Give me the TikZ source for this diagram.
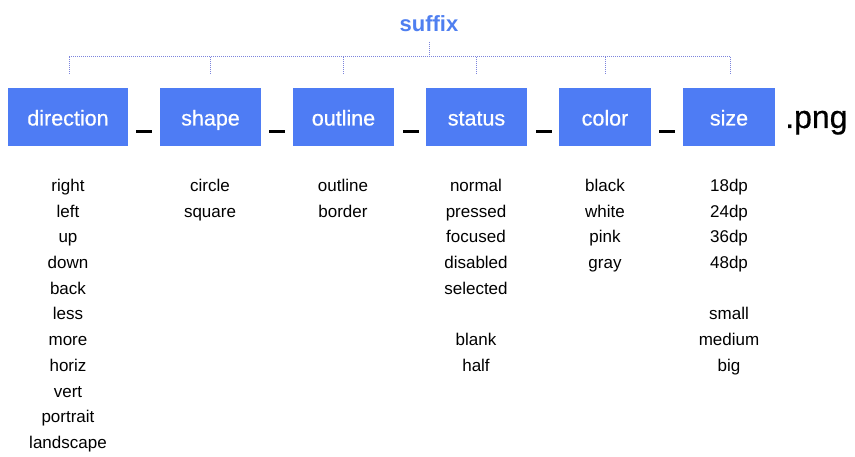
\documentclass[tikz,border=0pt]{standalone}
\usepackage{fontspec}
\setmainfont{Liberation Sans}
\newfontfamily\medfont{Liberation Sans}[FakeBold=0.6]
\definecolor{boxblue}{HTML}{4E7CF4}
\definecolor{suffixblue}{HTML}{4F7FF0}
\definecolor{dotline}{HTML}{7C84DC}
\tikzset{
  catbox/.style={fill=boxblue, draw=none, text=white, minimum height=58pt, inner sep=0pt,
    font=\medfont\fontsize{21.5}{24}\selectfont, text height=17pt, text depth=0pt},
  uscore/.style={fill=black, draw=none, minimum width=16pt, minimum height=3pt, inner sep=0pt},
  item/.style={anchor=base, inner sep=0pt, font=\fontsize{17}{20}\selectfont},
  dots/.style={dotline, line width=1pt, dash pattern=on 1pt off 1pt}
}
\begin{document}
\begin{tikzpicture}[x=1pt,y=-1pt]
\useasboundingbox (0,0) rectangle (855,457);
% title
\node[anchor=base, inner sep=0pt, text=suffixblue, font=\bfseries\fontsize{22}{24}\selectfont] (suffix) at (429,31.5) {suffix};
% boxes
\node[catbox, minimum width=120pt] (direction) at (68,117) {direction};
\node[catbox, minimum width=101pt] (shape) at (210.5,117) {shape};
\node[catbox, minimum width=101pt] (outline) at (343.5,117) {outline};
\node[catbox, minimum width=101pt] (status) at (476.5,117) {status};
\node[catbox, minimum width=92pt] (color) at (605,117) {color};
\node[catbox, minimum width=92pt] (size) at (729,117) {size};
% underscores
\node[uscore] (u1) at (144,131.5) {};
\node[uscore] (u2) at (277,131.5) {};
\node[uscore] (u3) at (410.5,131.5) {};
\node[uscore] (u4) at (543.5,131.5) {};
\node[uscore] (u5) at (667,131.5) {};
\node[anchor=base west, inner sep=0pt, font=\medfont\fontsize{32}{34}\selectfont] (png) at (785,128) {.png};
% bracket
\coordinate (top) at (429,42);
\coordinate (mid) at (429,57);
\coordinate (hl) at (69,57);
\coordinate (hr) at (730,57);
\draw[dots] (top) -- (mid);
\draw[dots] (hl) -- (hr);
\foreach \n/\x in {d/69, s/210.5, o/343.5, t/476.5, c/605, z/730}{
  \coordinate (a\n) at (\x,57);
  \coordinate (b\n) at (\x,75);
  \draw[dots] (a\n) -- (b\n);
}
% lists
\foreach \w [count=\i from 0] in {right,left,up,down,back,less,more,horiz,vert,portrait,landscape}{
  \node[item] (dir\i) at (68,191.5+25.7*\i) {\w};
}
\foreach \w [count=\i from 0] in {circle,square}{
  \node[item] (shp\i) at (210,191.5+25.7*\i) {\w};
}
\foreach \w [count=\i from 0] in {outline,border}{
  \node[item] (out\i) at (343,191.5+25.7*\i) {\w};
}
\foreach \w/\i in {normal/0,pressed/1,focused/2,disabled/3,selected/4,blank/6,half/7}{
  \node[item] (sta\i) at (476,191.5+25.7*\i) {\w};
}
\foreach \w [count=\i from 0] in {black,white,pink,gray}{
  \node[item] (col\i) at (605,191.5+25.7*\i) {\w};
}
\foreach \w/\i in {18dp/0,24dp/1,36dp/2,48dp/3,small/5,medium/6,big/7}{
  \node[item] (siz\i) at (729,191.5+25.7*\i) {\w};
}
\end{tikzpicture}
\end{document}
